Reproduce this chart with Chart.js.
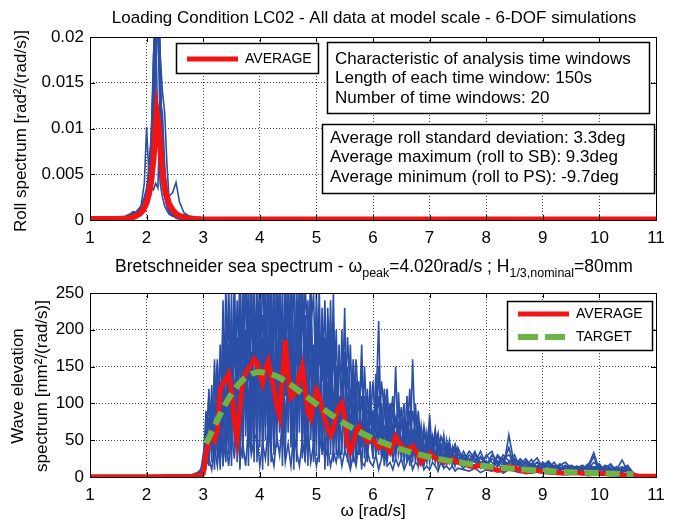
<!DOCTYPE html>
<html>
<head>
<meta charset="utf-8">
<script src="https://cdn.jsdelivr.net/npm/chart.js@4.4.1/dist/chart.umd.min.js"></script>
<style>
  body { margin: 0; background: #fff; width: 678px; height: 522px; position: relative; overflow: hidden; }
  #rollChart { position: absolute; left: 0; top: 0; }
  #waveChart { position: absolute; left: 0; top: 250px; }
</style>
</head>
<body>
<canvas id="rollChart" width="678" height="250"></canvas>
<canvas id="waveChart" width="678" height="272"></canvas>
<script>
// ---- data: roll spectrum (top) ----
const rollOmega = [1, 1.5, 1.6, 1.68, 1.76, 1.84, 1.9, 1.96, 2.0, 2.04, 2.08, 2.12, 2.16, 2.2, 2.24, 2.28, 2.32, 2.36, 2.4, 2.46, 2.52, 2.58, 2.66, 2.76, 2.9, 3.2, 11];
const rollWin1 = [0, 0.00005, 0.0001, 0.0002, 0.0003, 0.0005, 0.0008, 0.0013, 0.0022, 0.0035, 0.006, 0.012, 0.024, 0.03, 0.016, 0.007, 0.0035, 0.002, 0.0012, 0.0008, 0.0005, 0.0003, 0.0002, 0.0001, 0.00005, 0, 0];
const rollWin2 = [0, 0.0001, 0.0002, 0.0004, 0.0009, 0.0007, 0.0015, 0.004, 0.0102, 0.005, 0.0035, 0.007, 0.022, 0.009, 0.004, 0.0025, 0.0015, 0.001, 0.0006, 0.0004, 0.0003, 0.0002, 0.0001, 0.0001, 0, 0, 0];
const rollWin3 = [0, 0, 0.0001, 0.0003, 0.0005, 0.0009, 0.0012, 0.0018, 0.0025, 0.004, 0.007, 0.011, 0.015, 0.026, 0.018, 0.006, 0.0035, 0.003, 0.0026, 0.003, 0.0041, 0.002, 0.0008, 0.0004, 0.0003, 0.0001, 0];
const rollWin4 = [0, 0.0001, 0.0003, 0.0006, 0.0004, 0.0011, 0.0015, 0.0025, 0.0035, 0.0034, 0.0036, 0.0033, 0.004, 0.0035, 0.013, 0.0117, 0.006, 0.002, 0.0009, 0.0006, 0.0002, 0.0001, 0.0001, 0, 0, 0, 0];
const rollWin5 = [0, 0, 0.0001, 0.0002, 0.0004, 0.0006, 0.001, 0.0016, 0.003, 0.006, 0.009, 0.016, 0.028, 0.025, 0.018, 0.014, 0.0117, 0.006, 0.002, 0.0012, 0.0007, 0.0004, 0.0002, 0.0001, 0.0001, 0, 0];
const rollWin6 = [0, 0.0001, 0.0002, 0.0005, 0.0009, 0.0005, 0.0009, 0.002, 0.0028, 0.0038, 0.008, 0.018, 0.021, 0.032, 0.012, 0.005, 0.0028, 0.0016, 0.0012, 0.0009, 0.0008, 0.0005, 0.0006, 0.0003, 0.0001, 0, 0];
const rollWin7 = [0, 0.0002, 0.0003, 0.0004, 0.0006, 0.0008, 0.0012, 0.002, 0.0033, 0.005, 0.0085, 0.015, 0.03, 0.022, 0.0095, 0.0045, 0.0025, 0.0014, 0.0008, 0.0005, 0.0003, 0.0002, 0.0001, 0, 0, 0, 0];
const rollWin8 = [0, 0.0001, 0.0002, 0.0003, 0.0007, 0.001, 0.0011, 0.0022, 0.0031, 0.0045, 0.0075, 0.014, 0.025, 0.02, 0.014, 0.0085, 0.005, 0.0033, 0.0021, 0.0013, 0.0009, 0.0005, 0.0004, 0.0002, 0.0001, 0, 0];
const rollAvgOmega = [1, 1.5, 1.7, 1.8, 1.88, 1.94, 2.0, 2.04, 2.08, 2.12, 2.15, 2.18, 2.21, 2.24, 2.27, 2.3, 2.34, 2.4, 2.46, 2.53, 2.6, 2.7, 2.85, 3.0, 11];
const rollAvg = [0.0001, 0.0001, 0.0002, 0.0004, 0.0007, 0.0011, 0.0019, 0.0028, 0.0042, 0.0065, 0.0093, 0.0118, 0.0106, 0.0082, 0.0058, 0.0042, 0.0029, 0.0017, 0.0011, 0.0006, 0.0004, 0.0002, 0.0001, 0.00005, 0.00005];
const rollTicksY = [0, 0.005, 0.01, 0.015, 0.02];

// ---- data: wave elevation spectrum (bottom) ----
const waveOmega = [2.6, 2.8, 2.9,
  2.95, 3.0, 3.05, 3.1, 3.15, 3.2, 3.25, 3.3, 3.35, 3.4,
  3.45, 3.5, 3.55, 3.6, 3.65, 3.7, 3.75, 3.8, 3.85, 3.9,
  3.95, 4.0, 4.05, 4.1, 4.15, 4.2, 4.25, 4.3, 4.35, 4.4,
  4.45, 4.5, 4.55, 4.6, 4.65, 4.7, 4.75, 4.8, 4.85, 4.9,
  4.95, 5.0, 5.05, 5.1, 5.15, 5.2, 5.25, 5.3, 5.35, 5.4,
  5.45, 5.5, 5.55, 5.6, 5.65, 5.7, 5.75, 5.8, 5.85, 5.9,
  5.95, 6.0, 6.05, 6.1, 6.15, 6.2, 6.25, 6.3, 6.35, 6.4,
  6.45, 6.5, 6.55, 6.6, 6.65, 6.7, 6.75, 6.8, 6.85, 6.9,
  6.95, 7.0, 7.05, 7.1, 7.15, 7.2, 7.25, 7.3, 7.35, 7.4,
  7.45, 7.5,
  7.6, 7.7, 7.8, 7.9, 8.0, 8.1, 8.2, 8.3, 8.4, 8.5,
  8.6, 8.7, 8.8, 8.9, 9.0, 9.1, 9.2, 9.3, 9.4, 9.5,
  9.6, 9.7, 9.8, 9.9, 10.0, 10.1, 10.2, 10.3, 10.4, 10.5, 10.6,
  10.65, 10.7];
const waveWinA = [0, 2, 4,
  6, 12, 70, 15, 125, 30, 95, 20, 240, 35,
  180, 15, 290, 60, 210, 25, 310, 80, 170, 20,
  260, 40, 300, 110, 190, 30, 280, 70, 230, 15,
  320, 60, 205, 25, 270, 90, 160, 20, 240, 50,
  180, 30, 260, 45, 150, 15, 210, 40, 120, 25,
  200, 30, 90, 15, 140, 35, 75, 10, 110, 30,
  60, 25, 90, 212, 30, 70, 20, 60, 35, 150,
  30, 50, 20, 70, 15, 160, 40, 60, 20, 45,
  25, 85, 30, 60, 15, 45, 25, 35, 20, 40,
  15, 30,
  25, 15, 30, 20, 12, 25, 18, 10, 57, 15,
  20, 10, 18, 26, 12, 15, 8, 14, 10, 16,
  12, 8, 15, 33, 10, 12, 8, 14, 6, 10, 5,
  2, 0];
const waveWinB = [0, 1, 3,
  4, 8, 40, 110, 20, 160, 35, 130, 15, 200,
  30, 250, 40, 190, 10, 270, 55, 220, 35, 300,
  20, 230, 65, 280, 15, 200, 40, 310, 90, 260,
  30, 190, 70, 300, 20, 230, 55, 180, 15, 250,
  40, 200, 20, 230, 70, 170, 30, 190, 50, 110,
  30, 170, 50, 120, 20, 95, 60, 180, 25, 70,
  100, 30, 140, 50, 80, 20, 110, 40, 70, 25,
  115, 35, 60, 20, 90, 30, 55, 15, 40, 25,
  60, 20, 40, 65, 25, 35, 15, 50, 25, 30,
  35, 20,
  35, 20, 15, 28, 18, 12, 22, 15, 20, 30,
  12, 22, 10, 15, 18, 8, 16, 12, 9, 14,
  10, 14, 8, 12, 18, 7, 11, 9, 23, 8, 6,
  1, 0];
const waveWinC = [0, 3, 6,
  3, 10, 25, 55, 80, 10, 150, 60, 100, 20,
  150, 80, 220, 20, 260, 110, 190, 15, 250, 60,
  150, 280, 10, 240, 120, 270, 30, 190, 60, 220,
  110, 260, 40, 150, 90, 280, 25, 210, 100, 160,
  60, 250, 110, 30, 190, 60, 240, 20, 150, 70,
  110, 60, 150, 40, 100, 20, 130, 50, 85, 20,
  130, 40, 75, 110, 25, 65, 35, 95, 20, 50,
  70, 25, 85, 40, 50, 20, 100, 30, 50, 15,
  40, 30, 55, 20, 45, 30, 57, 20, 35, 15,
  25, 35,
  18, 30, 22, 12, 30, 20, 14, 25, 12, 22,
  16, 14, 24, 10, 14, 18, 10, 8, 15, 10,
  15, 10, 12, 28, 8, 14, 10, 7, 12, 16, 4,
  3, 0];
const waveWinD = [0, 2, 5,
  5, 15, 55, 30, 100, 50, 120, 10, 170, 80,
  40, 200, 110, 160, 30, 230, 90, 280, 40, 200,
  90, 170, 220, 50, 300, 20, 240, 120, 170, 40,
  240, 90, 230, 10, 200, 60, 260, 40, 130, 280,
  20, 150, 80, 210, 10, 130, 90, 250, 30, 180,
  70, 230, 20, 85, 55, 120, 30, 70, 40, 120,
  45, 90, 30, 60, 100, 15, 85, 30, 60, 45,
  40, 80, 30, 110, 25, 65, 20, 75, 30, 40,
  20, 50, 35, 25, 40, 20, 30, 45, 20, 30,
  40, 20,
  12, 22, 35, 15, 22, 10, 28, 18, 40, 12,
  25, 15, 12, 20, 8, 12, 20, 10, 12, 8,
  8, 12, 10, 20, 14, 6, 15, 10, 8, 12, 3,
  1, 0];
const waveWinE = [0, 1, 5,
  8, 20, 90, 40, 60, 140, 25, 180, 60, 260,
  90, 170, 60, 240, 140, 40, 200, 130, 280, 100,
  200, 60, 150, 260, 80, 220, 160, 40, 290, 120,
  170, 230, 120, 60, 240, 150, 300, 100, 60, 200,
  250, 90, 170, 130, 240, 50, 160, 110, 60, 140,
  150, 90, 110, 60, 160, 90, 40, 110, 60, 90,
  80, 60, 110, 30, 130, 90, 50, 75, 110, 30,
  60, 95, 50, 75, 30, 90, 60, 35, 70, 30,
  50, 40, 30, 45, 60, 25, 40, 30, 50, 20,
  30, 25,
  30, 25, 20, 35, 15, 30, 20, 25, 30, 18,
  22, 18, 15, 12, 20, 14, 10, 18, 12, 10,
  14, 10, 18, 12, 8, 16, 12, 10, 14, 8, 5,
  2, 0];
const waveWinF = [0, 2, 6,
  10, 5, 30, 80, 35, 60, 110, 40, 130, 90,
  260, 120, 70, 130, 200, 160, 260, 40, 130, 230,
  120, 210, 100, 170, 250, 110, 70, 260, 140, 190,
  60, 160, 280, 140, 110, 200, 80, 260, 190, 90,
  130, 70, 200, 100, 60, 230, 120, 70, 200, 50,
  100, 140, 70, 180, 45, 130, 110, 40, 150, 60,
  110, 70, 50, 80, 60, 120, 45, 100, 55, 80,
  45, 70, 100, 30, 60, 45, 80, 50, 25, 60,
  35, 60, 45, 30, 55, 40, 20, 40, 45, 25,
  20, 40,
  22, 35, 25, 18, 28, 35, 16, 30, 22, 15,
  18, 25, 14, 20, 15, 22, 12, 16, 20, 12,
  12, 16, 10, 14, 10, 12, 18, 8, 10, 14, 6,
  2, 0];
const waveWinG = [0, 1, 2,
  2, 5, 15, 25, 10, 40, 15, 60, 20, 50,
  15, 60, 25, 80, 20, 45, 15, 70, 30, 50,
  60, 15, 45, 25, 70, 35, 15, 55, 30, 80,
  20, 45, 15, 60, 35, 15, 50, 25, 70, 20,
  45, 15, 35, 60, 25, 40, 15, 35, 20, 45,
  15, 35, 25, 10, 30, 15, 45, 20, 15, 35,
  20, 15, 30, 10, 25, 40, 15, 20, 10, 25,
  15, 25, 10, 20, 30, 10, 20, 15, 25, 10,
  15, 10, 20, 15, 8, 20, 12, 15, 10, 15,
  8, 12,
  10, 8, 12, 6, 10, 8, 12, 5, 10, 8,
  6, 8, 5, 7, 9, 5, 6, 8, 4, 6,
  5, 7, 4, 6, 5, 8, 4, 5, 6, 3, 2,
  1, 0];
const waveWinH = [0, 2, 4,
  5, 30, 15, 120, 45, 90, 160, 70, 200, 130,
  220, 50, 180, 110, 290, 70, 150, 240, 90, 180,
  240, 120, 190, 70, 160, 290, 100, 210, 250, 80,
  200, 130, 260, 180, 70, 250, 130, 220, 150, 240,
  110, 180, 60, 160, 120, 200, 70, 210, 100, 160,
  120, 80, 190, 110, 70, 160, 90, 140, 70, 110,
  70, 130, 60, 150, 40, 90, 120, 50, 90, 70,
  90, 40, 70, 55, 120, 30, 45, 90, 40, 70,
  45, 65, 25, 50, 35, 55, 45, 25, 40, 35,
  45, 30,
  28, 18, 30, 25, 20, 15, 30, 22, 18, 25,
  15, 20, 18, 14, 12, 20, 14, 10, 16, 12,
  10, 12, 14, 9, 16, 10, 8, 12, 9, 7, 4,
  1, 0];
const waveAvgOmega = [1, 2.0, 2.8, 2.95, 3.0, 3.05, 3.1, 3.15, 3.2, 3.25, 3.3, 3.35, 3.4,
  3.45, 3.5, 3.55, 3.6, 3.65, 3.7, 3.75, 3.8, 3.85, 3.9,
  3.95, 4.0, 4.05, 4.1, 4.15, 4.2, 4.25, 4.3, 4.35, 4.4,
  4.45, 4.5, 4.55, 4.6, 4.65, 4.7, 4.75, 4.8, 4.85, 4.9,
  4.95, 5.0, 5.05, 5.1, 5.15, 5.2, 5.25, 5.3, 5.35, 5.4,
  5.45, 5.5, 5.55, 5.6, 5.65, 5.7, 5.75, 5.8, 5.85, 5.9,
  5.95, 6.0, 6.1, 6.2, 6.3, 6.4, 6.5, 6.6, 6.7, 6.8, 6.85, 6.95,
  7.0, 7.1, 7.2, 7.3, 7.4, 7.5, 7.6, 7.7, 7.8, 7.9,
  8.0, 8.1, 8.2, 8.3, 8.4, 8.5, 8.6, 8.7, 8.8, 8.9,
  9.0, 9.2, 9.4, 9.6, 9.8, 10.0, 10.2, 10.4, 10.6, 10.7, 11];
const waveAvg = [0.5, 0.5, 1, 2, 5, 30, 50, 57, 50, 62, 118, 127, 133,
  140, 115, 75, 52, 95, 132, 141, 148, 152, 160,
  156, 140, 128, 147, 157, 138, 120, 97, 83, 135,
  186, 140, 108, 112, 115, 138, 150, 120, 88, 80,
  102, 118, 110, 92, 78, 66, 57, 65, 85, 95,
  100, 80, 45, 35, 45, 62, 68, 62, 55, 48,
  52, 50, 40, 45, 34, 55, 42, 36, 42, 30, 20, 28,
  32, 26, 22, 20, 24, 20, 18, 15, 14, 16,
  13, 12, 9, 10, 14, 13, 9, 7, 8, 9,
  7, 6, 5, 6, 4, 5, 4, 3, 2.5, 1, 1];
const targetOmega = [3.05, 3.15, 3.25, 3.375, 3.5, 3.625, 3.75, 3.875, 4.0, 4.25, 4.5, 4.75, 5.0, 5.25, 5.5, 5.75, 6.0, 6.5, 7.0, 7.5, 8.0, 8.5, 9.0, 9.5, 10.0, 10.6];
const targetSpec = [45.5, 61.2, 77.2, 96.4, 113.0, 126.0, 135.2, 140.6, 142.5, 138.5, 127.7, 113.7, 99.2, 85.2, 72.6, 61.7, 52.2, 37.5, 27.1, 19.9, 14.7, 11.1, 8.4, 6.5, 5.1, 3.8];
const waveTicksY = [0, 50, 100, 150, 200, 250];
const omegaTicks = [1, 2, 3, 4, 5, 6, 7, 8, 9, 10, 11];

const FONT = "'Liberation Sans', Arial, sans-serif";
const BLUE = '#2b4ea6';
const RED = '#f01414';
const GREEN = '#6cb443';

const pts = (xs, ys) => xs.map((x, i) => ({ x: x, y: ys[i] }));

function blueLine(xs, ys) {
    return { data: pts(xs, ys), borderColor: BLUE, borderWidth: 1.6, pointRadius: 0, tension: 0, order: 5 };
}

function axisScales(yMax, yTicks, xAxisHeight) {
    return {
        x: {
            type: 'linear', min: 1, max: 11,
            afterBuildTicks: s => { s.ticks = omegaTicks.map(v => ({ value: v })); },
            afterFit: s => { s.height = xAxisHeight; },
            grid: { color: '#444', lineWidth: 1, drawTicks: false },
            border: { display: false, dash: [1, 2] },
            ticks: { color: '#000', padding: 8, font: { family: FONT, size: 17 }, maxRotation: 0 }
        },
        y: {
            min: 0, max: yMax,
            afterBuildTicks: s => { s.ticks = yTicks.map(v => ({ value: v })); },
            afterFit: s => { s.width = 90; },
            grid: { color: '#444', lineWidth: 1, drawTicks: false },
            border: { display: false, dash: [1, 2] },
            ticks: { color: '#000', padding: 6, font: { family: FONT, size: 17 }, callback: v => String(v) }
        }
    };
}

// frame with inward ticks, MATLAB style
function drawFrame(chart) {
    const { ctx, chartArea: a, scales } = chart;
    ctx.save();
    ctx.strokeStyle = '#000';
    ctx.lineWidth = 1;
    ctx.beginPath();
    scales.x.ticks.forEach(t => {
        const px = Math.round(scales.x.getPixelForValue(t.value)) + 0.5;
        ctx.moveTo(px, a.bottom); ctx.lineTo(px, a.bottom - 5);
        ctx.moveTo(px, a.top); ctx.lineTo(px, a.top + 5);
    });
    scales.y.ticks.forEach(t => {
        const py = Math.round(scales.y.getPixelForValue(t.value)) + 0.5;
        ctx.moveTo(a.left, py); ctx.lineTo(a.left + 5, py);
        ctx.moveTo(a.right, py); ctx.lineTo(a.right - 5, py);
    });
    ctx.stroke();
    ctx.strokeRect(Math.round(a.left) + 0.5, Math.round(a.top) + 0.5, Math.round(a.right - a.left), Math.round(a.bottom - a.top));
    ctx.restore();
}

function textBox(ctx, x, y, w, h, lines, tx, ty, dy) {
    ctx.save();
    ctx.fillStyle = '#fff';
    ctx.fillRect(x, y, w, h);
    ctx.strokeStyle = '#000';
    ctx.lineWidth = 1.5;
    ctx.strokeRect(x, y, w, h);
    ctx.fillStyle = '#000';
    ctx.font = '17px ' + FONT;
    ctx.textBaseline = 'middle';
    ctx.textAlign = 'left';
    lines.forEach((l, i) => ctx.fillText(l, tx, ty + i * dy));
    ctx.restore();
}

function legendEntry(ctx, x1, x2, y, color, width, dash, label) {
    ctx.save();
    ctx.strokeStyle = color;
    ctx.lineWidth = width;
    ctx.setLineDash(dash);
    ctx.beginPath(); ctx.moveTo(x1, y); ctx.lineTo(x2, y); ctx.stroke();
    ctx.setLineDash([]);
    ctx.fillStyle = '#000';
    ctx.font = '14px ' + FONT;
    ctx.textBaseline = 'middle';
    ctx.fillText(label, x2 + 7, y);
    ctx.restore();
}

function legendFrame(ctx, x, y, w, h) {
    ctx.save();
    ctx.fillStyle = '#fff';
    ctx.fillRect(x, y, w, h);
    ctx.strokeStyle = '#000';
    ctx.lineWidth = 1.5;
    ctx.strokeRect(x, y, w, h);
    ctx.restore();
}

// text runs with subscripts
function richText(ctx, runs, cx, cy) {
    const big = '17.5px ' + FONT, small = '12.5px ' + FONT;
    let total = 0;
    runs.forEach(r => { ctx.font = r.sub ? small : big; total += ctx.measureText(r.t).width; });
    let x = cx - total / 2;
    ctx.textBaseline = 'middle';
    ctx.textAlign = 'left';
    runs.forEach(r => {
        ctx.font = r.sub ? small : big;
        ctx.fillText(r.t, x, r.sub ? cy + 7 : cy);
        x += ctx.measureText(r.t).width;
    });
}

const rollDecor = {
    id: 'rollDecor',
    afterDatasetsDraw(chart) {
        const ctx = chart.ctx;
        drawFrame(chart);
        legendFrame(ctx, 176.5, 43.5, 142, 30);
        legendEntry(ctx, 187, 238, 59, RED, 5, [], 'AVERAGE');
        textBox(ctx, 327.5, 42.5, 322, 71, ['Characteristic of analysis time windows', 'Length of each time window: 150s', 'Number of time windows: 20'], 335, 59, 19.5);
        textBox(ctx, 322.5, 124.5, 332, 69, ['Average roll standard deviation: 3.3deg', 'Average maximum (roll to SB): 9.3deg', 'Average minimum (roll to PS): -9.7deg'], 330, 138, 19.5);
        ctx.save();
        ctx.fillStyle = '#000';
        ctx.font = '17px ' + FONT;
        ctx.textAlign = 'center';
        ctx.textBaseline = 'middle';
        ctx.fillText('Loading Condition LC02 - All data at model scale - 6-DOF simulations', 374, 18);
        ctx.translate(21, 131);
        ctx.rotate(-Math.PI / 2);
        ctx.fillText('Roll spectrum [rad²/(rad/s)]', 0, 0);
        ctx.restore();
    }
};

const waveDecor = {
    id: 'waveDecor',
    afterDatasetsDraw(chart) {
        const ctx = chart.ctx;
        drawFrame(chart);
        legendFrame(ctx, 507.5, 51.5, 145, 49);
        legendEntry(ctx, 518, 569, 64, RED, 5, [], 'AVERAGE');
        legendEntry(ctx, 518, 569, 87, GREEN, 6, [20, 7], 'TARGET');
        ctx.save();
        ctx.fillStyle = '#000';
        richText(ctx, [
            { t: 'Bretschneider sea spectrum - ω' }, { t: 'peak', sub: true },
            { t: '=4.020rad/s ; H' }, { t: '1/3,nominal', sub: true }, { t: '=80mm' }
        ], 374, 17);
        ctx.font = '17px ' + FONT;
        ctx.textAlign = 'center';
        ctx.textBaseline = 'middle';
        ctx.fillText('ω [rad/s]', 373, 261);
        ctx.translate(18, 136);
        ctx.rotate(-Math.PI / 2);
        ctx.fillText('Wave elevation', 0, 0);
        ctx.fillText('spectrum [mm²/(rad/s)]', 0, 24);
        ctx.restore();
    }
};

const common = {
    responsive: false,
    animation: false,
    events: [],
    plugins: { legend: { display: false }, tooltip: { enabled: false } }
};

new Chart(document.getElementById('rollChart'), {
    type: 'line',
    data: {
        datasets: [
            { data: pts(rollAvgOmega, rollAvg), borderColor: RED, borderWidth: 6, pointRadius: 0, tension: 0, order: 1 },
            blueLine(rollOmega, rollWin1),
            blueLine(rollOmega, rollWin2),
            blueLine(rollOmega, rollWin3),
            blueLine(rollOmega, rollWin4),
            blueLine(rollOmega, rollWin5),
            blueLine(rollOmega, rollWin6),
            blueLine(rollOmega, rollWin7),
            blueLine(rollOmega, rollWin8)
        ]
    },
    options: Object.assign({}, common, {
        layout: { padding: { top: 37, right: 22, bottom: 0, left: 0 } },
        scales: axisScales(0.02, rollTicksY, 30)
    }),
    plugins: [rollDecor]
});

new Chart(document.getElementById('waveChart'), {
    type: 'line',
    data: {
        datasets: [
            { data: pts(targetOmega, targetSpec), borderColor: GREEN, borderWidth: 6, borderDash: [14, 7], pointRadius: 0, tension: 0.3, order: 0 },
            { data: pts(waveAvgOmega, waveAvg), borderColor: RED, borderWidth: 5, pointRadius: 0, tension: 0, order: 1 },
            blueLine(waveOmega, waveWinA),
            blueLine(waveOmega, waveWinB),
            blueLine(waveOmega, waveWinC),
            blueLine(waveOmega, waveWinD),
            blueLine(waveOmega, waveWinE),
            blueLine(waveOmega, waveWinF),
            blueLine(waveOmega, waveWinG),
            blueLine(waveOmega, waveWinH)
        ]
    },
    options: Object.assign({}, common, {
        layout: { padding: { top: 43, right: 22, bottom: 0, left: 0 } },
        scales: axisScales(250, waveTicksY, 45)
    }),
    plugins: [waveDecor]
});
</script>
</body>
</html>
